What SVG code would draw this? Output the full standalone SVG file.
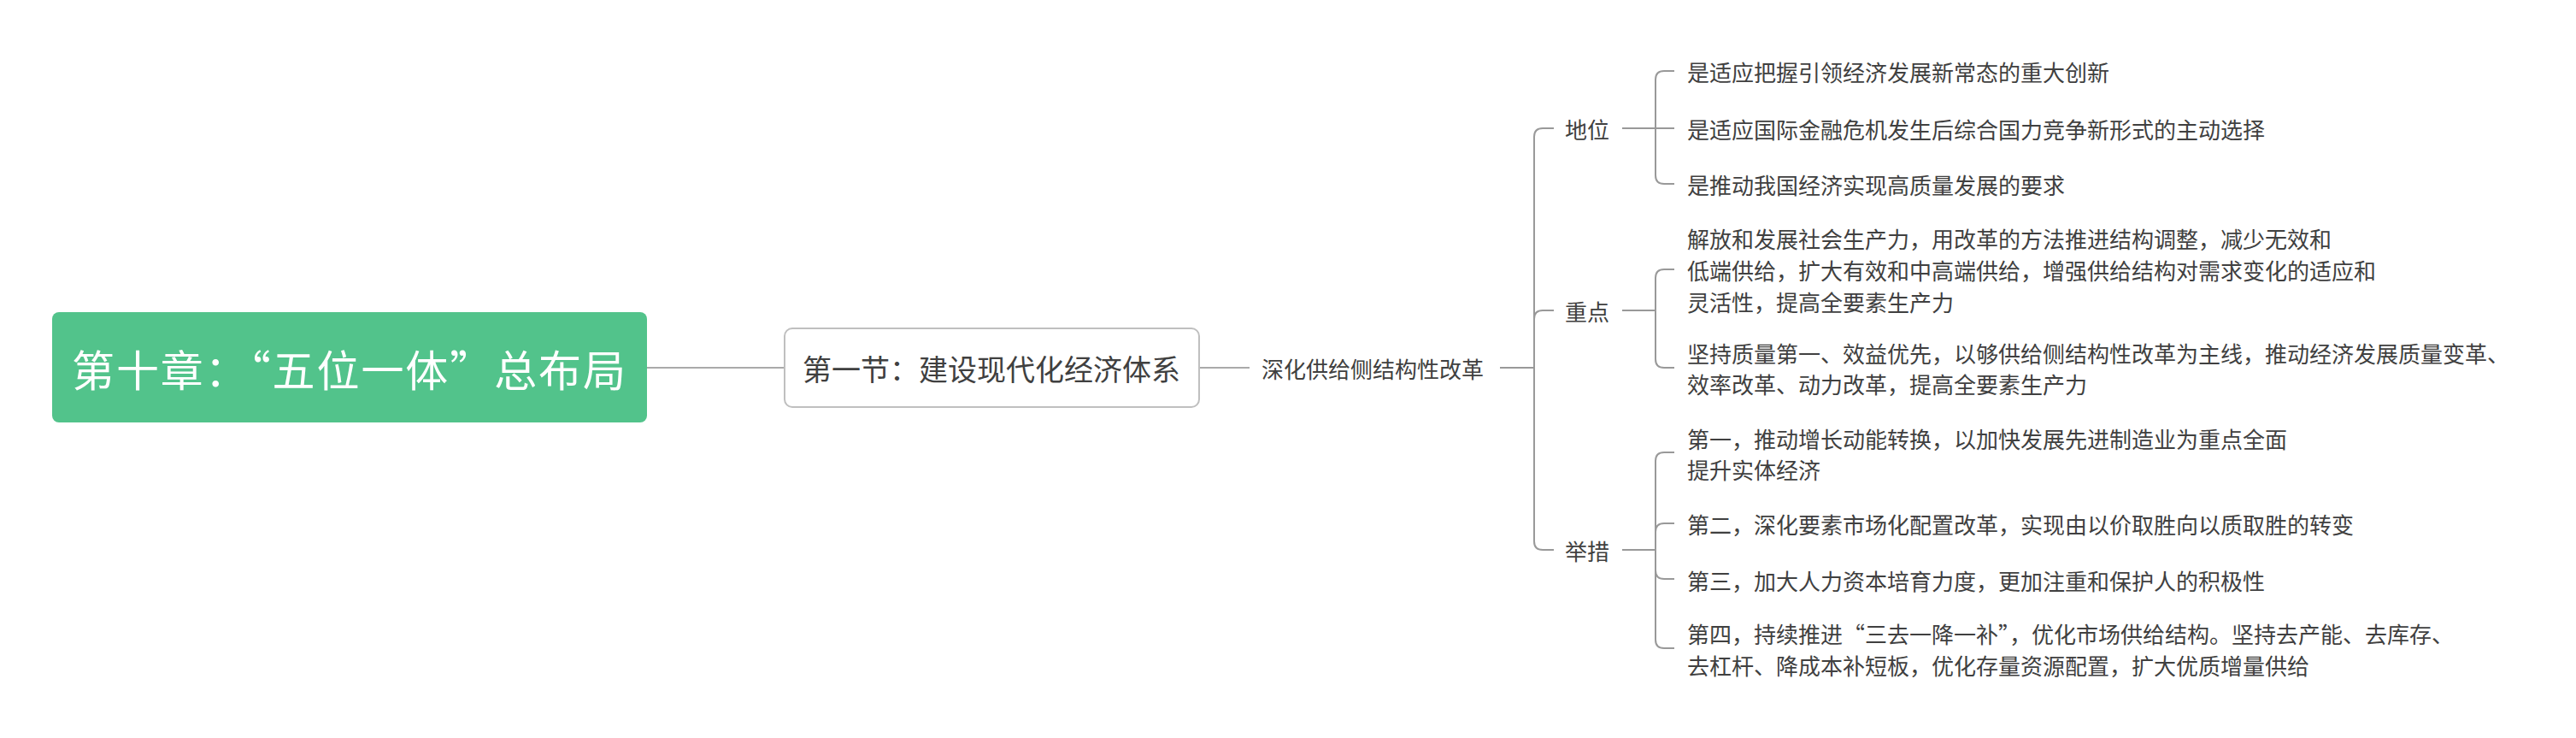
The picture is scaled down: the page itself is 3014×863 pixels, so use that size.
<svg xmlns="http://www.w3.org/2000/svg" width="3014" height="863" viewBox="0 0 3014 863">
<style>
.t{font-family:"Noto Sans CJK SC","Noto Sans",sans-serif;fill:#404040;dominant-baseline:central}
.leaf{font-size:26px}
.ln{fill:none;stroke:#999;stroke-width:2}
</style>
<rect width="3014" height="863" fill="#fff"/>
<g id="connectors">
<path class="ln" style="stroke:#aaa" d="M757 430H918"/>
<path class="ln" style="stroke:#aaa" d="M1403 430H1462"/>
<path class="ln" d="M1755 430H1795V160Q1795 150 1805 150H1818"/>
<path class="ln" d="M1795 430V373Q1795 363 1805 363H1818"/>
<path class="ln" d="M1795 430V633Q1795 643 1805 643H1818"/>
<path class="ln" d="M1898 150H1959"/>
<path class="ln" d="M1937 150V93Q1937 83 1947 83H1959"/>
<path class="ln" d="M1937 150V205Q1937 215 1947 215H1959"/>
<path class="ln" d="M1898 363H1937V325Q1937 315 1947 315H1959"/>
<path class="ln" d="M1937 363V420Q1937 430 1947 430H1959"/>
<path class="ln" d="M1898 643H1937V539Q1937 529 1947 529H1959"/>
<path class="ln" d="M1937 643V622Q1937 612 1947 612H1959"/>
<path class="ln" d="M1937 643V667Q1937 677 1947 677H1959"/>
<path class="ln" d="M1937 643V748Q1937 758 1947 758H1959"/>
</g>
<g id="root">
<rect x="61" y="365" width="696" height="129" rx="8" fill="#52C38B"/>
<text class="t" x="84" y="430" font-size="50" textLength="648" lengthAdjust="spacing" style="fill:#fff">第十章：“五位一体”总布局</text>
</g>
<g id="section1">
<rect x="918" y="384" width="485" height="92" rx="9" fill="#fff" stroke="#bfbfbf" stroke-width="2"/>
<text class="t" x="1160" y="430" font-size="34" text-anchor="middle">第一节：建设现代化经济体系</text>
</g>
<g id="supply-reform"><text class="t leaf" x="1476" y="430">深化供给侧结构性改革</text></g>
<g id="diwei"><text class="t leaf" x="1831" y="150">地位</text></g>
<g id="zhongdian"><text class="t leaf" x="1831" y="363">重点</text></g>
<g id="jucuo"><text class="t leaf" x="1831" y="643">举措</text></g>
<g id="diwei-1"><text class="t leaf" x="1974" y="83">是适应把握引领经济发展新常态的重大创新</text></g>
<g id="diwei-2"><text class="t leaf" x="1974" y="150">是适应国际金融危机发生后综合国力竞争新形式的主动选择</text></g>
<g id="diwei-3"><text class="t leaf" x="1974" y="215">是推动我国经济实现高质量发展的要求</text></g>
<g id="zhongdian-1">
<text class="t leaf" x="1974" y="278">解放和发展社会生产力，用改革的方法推进结构调整，减少无效和</text>
<text class="t leaf" x="1974" y="315">低端供给，扩大有效和中高端供给，增强供给结构对需求变化的适应和</text>
<text class="t leaf" x="1974" y="352">灵活性，提高全要素生产力</text>
</g>
<g id="zhongdian-2">
<text class="t leaf" x="1974" y="412">坚持质量第一、效益优先，以够供给侧结构性改革为主线，推动经济发展质量变革、</text>
<text class="t leaf" x="1974" y="448">效率改革、动力改革，提高全要素生产力</text>
</g>
<g id="jucuo-1">
<text class="t leaf" x="1974" y="512">第一，推动增长动能转换，以加快发展先进制造业为重点全面</text>
<text class="t leaf" x="1974" y="548">提升实体经济</text>
</g>
<g id="jucuo-2"><text class="t leaf" x="1974" y="612">第二，深化要素市场化配置改革，实现由以价取胜向以质取胜的转变</text></g>
<g id="jucuo-3"><text class="t leaf" x="1974" y="678">第三，加大人力资本培育力度，更加注重和保护人的积极性</text></g>
<g id="jucuo-4">
<text class="t leaf" x="1974" y="740">第四，持续推进“三去一降一补”，优化市场供给结构。坚持去产能、去库存、</text>
<text class="t leaf" x="1974" y="777">去杠杆、降成本补短板，优化存量资源配置，扩大优质增量供给</text>
</g>
</svg>
